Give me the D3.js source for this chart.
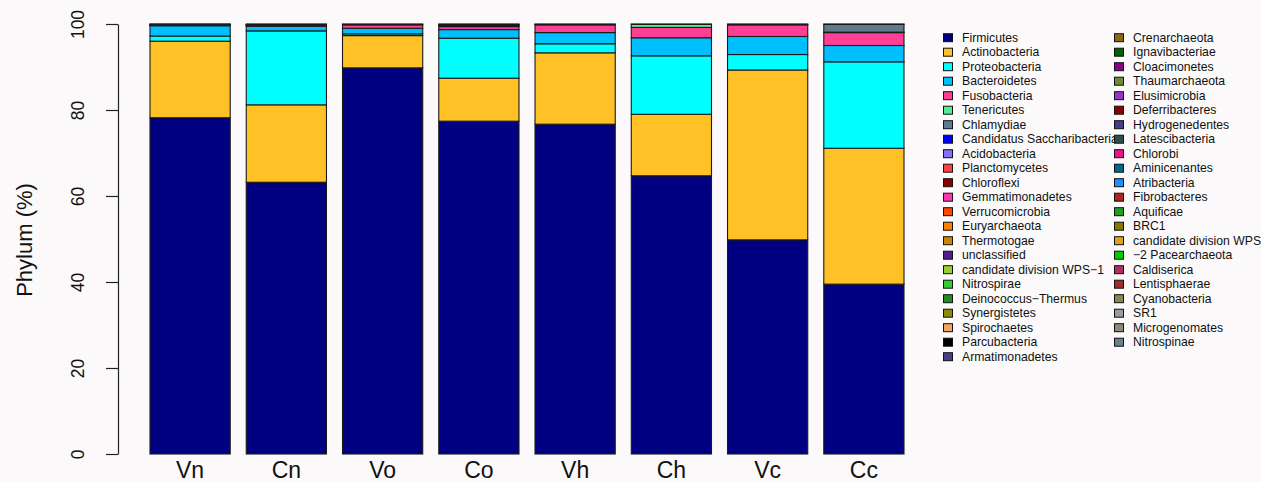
<!DOCTYPE html>
<html>
<head>
<meta charset="utf-8">
<script src="https://cdn.jsdelivr.net/npm/d3@7"></script>
<style>
  html, body { margin: 0; padding: 0; background: #fbf9f9; }
  svg { display: block; font-family: "Liberation Sans", Arial, Helvetica, sans-serif; }
</style>
</head>
<body>
<svg id="chart" width="1261" height="482"></svg>
<script>
// Samples (x categories)
const samples = ["Vn", "Cn", "Vo", "Co", "Vh", "Ch", "Vc", "Cc"];

// Phyla in stacking / legend order
const phyla = [
  "Firmicutes", "Actinobacteria", "Proteobacteria", "Bacteroidetes", "Fusobacteria",
  "Tenericutes", "Chlamydiae", "Candidatus Saccharibacteria", "Acidobacteria", "Planctomycetes",
  "Chloroflexi", "Gemmatimonadetes", "Verrucomicrobia", "Euryarchaeota", "Thermotogae",
  "unclassified", "candidate division WPS\u22121", "Nitrospirae", "Deinococcus\u2212Thermus", "Synergistetes",
  "Spirochaetes", "Parcubacteria", "Armatimonadetes",
  "Crenarchaeota", "Ignavibacteriae", "Cloacimonetes", "Thaumarchaeota", "Elusimicrobia",
  "Deferribacteres", "Hydrogenedentes", "Latescibacteria", "Chlorobi", "Aminicenantes",
  "Atribacteria", "Fibrobacteres", "Aquificae", "BRC1", "candidate division WPS",
  "\u22122 Pacearchaeota", "Caldiserica", "Lentisphaerae", "Cyanobacteria", "SR1",
  "Microgenomates", "Nitrospinae"
];

const phylumColors = [
  "#000080", "#FFC125", "#00FFFF", "#00BFFF", "#FF3E96",
  "#4EEE94", "#607B8B", "#0000FF", "#8470FF", "#FF4040",
  "#8B0000", "#FF34B3", "#FF4500", "#FF7F00", "#CD8500",
  "#551A8B", "#9ACD32", "#32CD32", "#228B22", "#8B8B00",
  "#F4A460", "#000000", "#483D8B",
  "#8B6914", "#006400", "#8B008B", "#6E8B3D", "#9A32CD",
  "#8B0000", "#483D8B", "#2F4F4F", "#EE1289", "#00688B",
  "#1E90FF", "#B22222", "#1FA01F", "#8B7500", "#DAA520",
  "#00CD00", "#B03060", "#A52A2A", "#8B864E", "#9C9C9C",
  "#8B8B7A", "#68838B"
];

// Relative abundance (%) per sample, in sample order
const firmicutes      = [78.2, 63.2, 89.8, 77.4, 76.7, 64.7, 49.8, 39.5];
const actinobacteria  = [17.8, 18.0,  7.5, 10.0, 16.6, 14.3, 39.5, 31.6];
const proteobacteria  = [ 1.2, 17.2,  0.4,  9.3,  2.1, 13.6,  3.6, 20.1];
const bacteroidetes   = [ 2.4,  1.1,  1.3,  2.0,  2.6,  4.2,  4.2,  3.8];
const fusobacteria    = [ 0.1,  0.1,  0.8,  0.7,  1.8,  2.4,  2.7,  3.0];
const tenericutes     = [ 0.1,  0.1,  0.1,  0.2,  0.1,  0.7,  0.1,  0.1];
const chlamydiae      = [ 0.05, 0.1,  0.1,  0.2,  0.1,  0.1,  0.1,  1.8];
const saccharibacteria= [ 0.1,  0.1,  0.0,  0.1,  0.0,  0.0,  0.0,  0.1];
const acidobacteria   = [ 0.05, 0.1,  0.0,  0.1,  0.0,  0.0,  0.0,  0.0];

const yTicks = [0, 20, 40, 60, 80, 100];

// Build table rows: one object per sample with a value for each phylum
const seriesByPhylum = {
  "Firmicutes": firmicutes,
  "Actinobacteria": actinobacteria,
  "Proteobacteria": proteobacteria,
  "Bacteroidetes": bacteroidetes,
  "Fusobacteria": fusobacteria,
  "Tenericutes": tenericutes,
  "Chlamydiae": chlamydiae,
  "Candidatus Saccharibacteria": saccharibacteria,
  "Acidobacteria": acidobacteria
};
const rows = samples.map((s, i) => {
  const r = { sample: s };
  phyla.forEach(p => { r[p] = seriesByPhylum[p] ? seriesByPhylum[p][i] : 0; });
  return r;
});

const svg = d3.select("#chart");

const x = d3.scaleBand()
  .domain(samples)
  .range([150, 904])
  .paddingInner(0.2 / 1.2)
  .paddingOuter(0);

const y = d3.scaleLinear().domain([0, 100]).range([454, 24]);

const color = d3.scaleOrdinal().domain(phyla).range(phylumColors);

const stacked = d3.stack().keys(phyla)(rows);

// Stacked bars
const layers = svg.append("g")
  .selectAll("g")
  .data(stacked)
  .join("g")
  .attr("fill", d => color(d.key));

layers.selectAll("rect")
  .data(d => d.filter(seg => seg[1] - seg[0] > 0))
  .join("rect")
  .attr("x", d => x(d.data.sample))
  .attr("width", x.bandwidth())
  .attr("y", d => y(d[1]))
  .attr("height", d => y(d[0]) - y(d[1]))
  .attr("stroke", "#1a1a1a")
  .attr("stroke-width", 1.1);

// Y axis
const yAxis = svg.append("g")
  .attr("transform", "translate(118,0)")
  .call(d3.axisLeft(y).tickValues(yTicks).tickSize(12).tickSizeOuter(0).tickFormat(d3.format("d")));
yAxis.select(".domain").attr("stroke", "#222").attr("stroke-width", 1.2);
yAxis.selectAll(".tick line").attr("stroke", "#222").attr("stroke-width", 1.2);
yAxis.selectAll(".tick text")
  .attr("x", 0)
  .attr("dy", null)
  .attr("transform", "translate(-34,0) rotate(-90)")
  .attr("text-anchor", "middle")
  .attr("font-size", 17.5)
  .attr("font-family", "'Liberation Sans', Arial, sans-serif")
  .attr("fill", "#111");

// Y title
svg.append("text")
  .attr("transform", "translate(32,240) rotate(-90)")
  .attr("text-anchor", "middle")
  .attr("font-size", 22)
  .attr("fill", "#111")
  .text("Phylum (%)");

// X category labels
svg.append("g")
  .selectAll("text")
  .data(samples)
  .join("text")
  .attr("x", d => x(d) + x.bandwidth() / 2)
  .attr("y", 478)
  .attr("text-anchor", "middle")
  .attr("font-size", 23)
  .attr("fill", "#111")
  .text(d => d);

// Legend: two columns
const legendCols = [
  { x: 943, items: phyla.slice(0, 23) },
  { x: 1114, items: phyla.slice(23) }
];
const rowStep = 14.5;
const legendTop = 37.7;

legendCols.forEach(col => {
  const g = svg.append("g");
  const item = g.selectAll("g")
    .data(col.items)
    .join("g")
    .attr("transform", (d, i) => `translate(${col.x},${legendTop + i * rowStep})`);
  item.append("rect")
    .attr("x", 0.5)
    .attr("y", -4)
    .attr("width", 9)
    .attr("height", 8)
    .attr("fill", d => color(d))
    .attr("stroke", "#111")
    .attr("stroke-width", 1);
  item.append("text")
    .attr("x", 19)
    .attr("y", 0)
    .attr("dy", "0.35em")
    .attr("font-size", 12.2)
    .attr("fill", "#111")
    .text(d => d);
});
</script>
</body>
</html>
